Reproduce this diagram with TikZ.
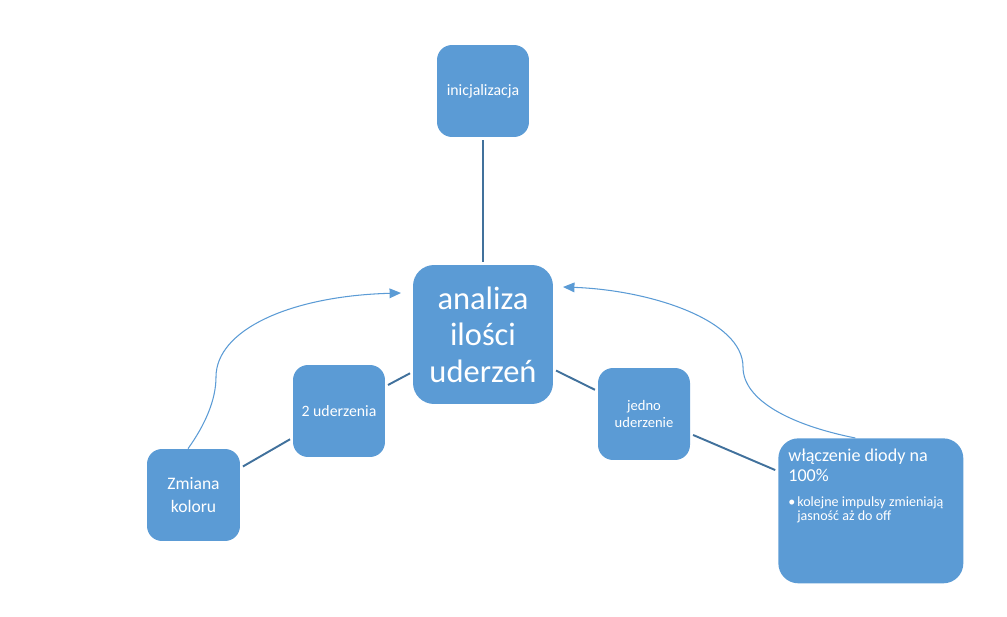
\documentclass[tikz,border=0pt]{standalone}
\usepackage{fontspec}
\setmainfont{Carlito}
\usetikzlibrary{arrows.meta}
\definecolor{blokfill}{HTML}{5B9BD5}
\definecolor{liniadark}{HTML}{41719C}
\tikzset{
  blok/.style={fill=blokfill, rounded corners=0.3cm, text=white, align=center,
    font=\fontsize{9}{10.2}\selectfont, minimum width=1.84cm, minimum height=1.84cm, inner sep=1pt},
  polacz/.style={draw=liniadark, line width=1.1pt, shorten <=0.06cm, shorten >=0.06cm},
  powrot/.style={draw=blokfill, line width=0.6pt, -{Triangle[length=6.5pt,width=5.5pt]}},
}
\begin{document}
\begin{tikzpicture}[x=0.02cm,y=-0.02cm]
\useasboundingbox (0,0) rectangle (1007,617);
% bloki
\node[blok] (init) at (483,91) {inicjalizacja};
\node[blok, minimum width=2.8cm, minimum height=2.78cm, rounded corners=0.42cm,
  font=\fontsize{18.5}{20.8}\selectfont] (glowny) at (483,334.5) {analiza\\ilości\\uderzeń};
\node[blok] (dwa) at (339,411) {2 uderzenia};
\node[blok, font=\fontsize{8.3}{10.2}\selectfont] (jedno) at (644,414) {jedno\\uderzenie};
\node[blok, minimum width=1.86cm, font=\fontsize{10}{13.6}\selectfont] (zmiana) at (193.5,495) {Zmiana\\koloru};
\node[blok, anchor=north west, align=left, rounded corners=0.4cm, inner xsep=0.2cm, inner ysep=0.22cm]
  (dioda) at (778,438) {\parbox[c][2.46cm][t]{3.3cm}{%
    \fontsize{10.3}{11.4}\selectfont włączenie diody na\\100\%\par
    \vspace{5.5pt}\fontsize{8}{8.2}\selectfont
    \hangindent=0.18cm\hangafter=1\noindent\makebox[0.18cm][l]{•}kolejne impulsy zmieniają\\jasność aż do off\par}};
% polaczenia
\draw[polacz] (init) -- (glowny);
\draw[polacz] (glowny) -- (dwa);
\draw[polacz] (dwa) -- (zmiana);
\draw[polacz] (glowny) -- (jedno);
\draw[polacz] (jedno) -- (dioda);
% powroty
\coordinate (grotL) at (401,293);
\coordinate (grotP) at (563,287);
\draw[powrot] ([xshift=-0.11cm]zmiana.north) .. controls (205,425) and (216,400) .. (216,377)
  .. controls (216,330) and (290,296) .. (grotL);
\draw[powrot] ([xshift=-0.31cm]dioda.north) .. controls (790,425) and (743,400) .. (743,367)
  .. controls (743,320) and (650,290) .. (grotP);
\end{tikzpicture}
\end{document}
